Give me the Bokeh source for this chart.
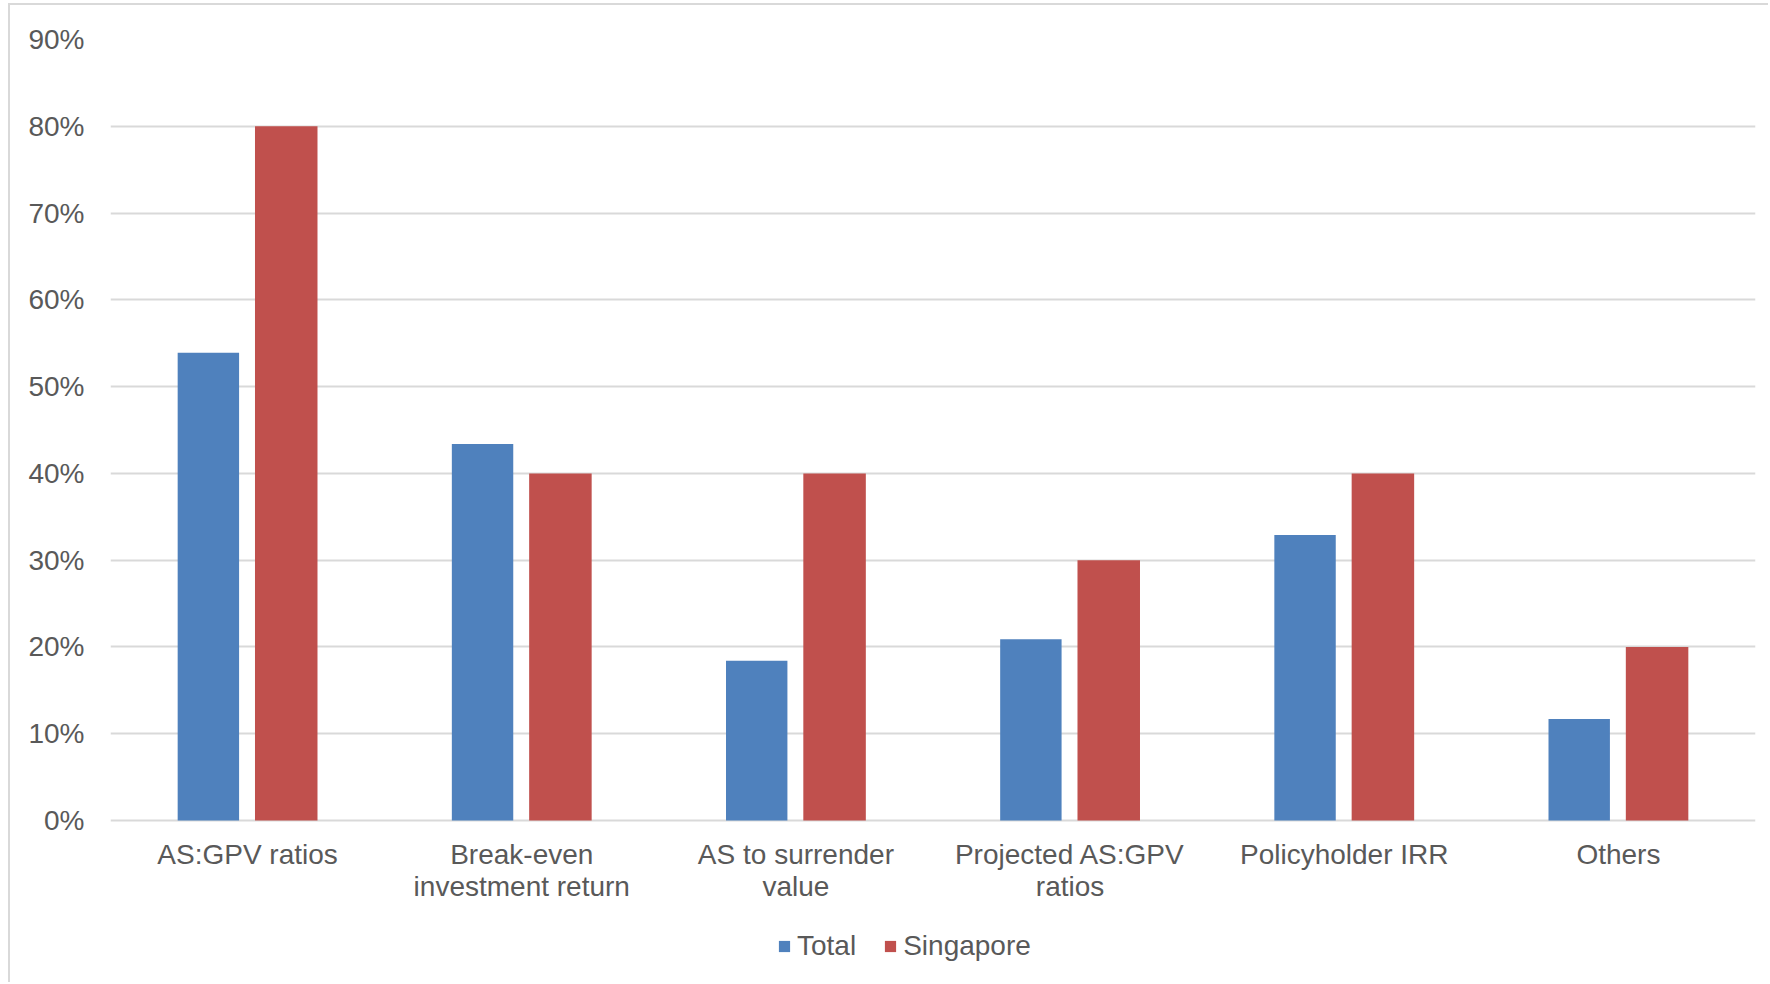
from bokeh.plotting import figure
from bokeh.models import ColumnDataSource, FactorRange, Range1d, NumeralTickFormatter, Legend, LegendItem, FixedTicker
from bokeh.core.properties import value
from bokeh.transform import dodge
from bokeh.embed import file_html
from bokeh.resources import INLINE

# Share of respondents using each measure
categories = ["AS:GPV ratios", "Break-even investment return", "AS to surrender value",
              "Projected AS:GPV ratios", "Policyholder IRR", "Others"]
label_line1 = ["AS:GPV ratios", "Break-even", "AS to surrender",
               "Projected AS:GPV", "Policyholder IRR", "Others"]
label_line2 = ["", "investment return", "value", "ratios", "", ""]
total = [0.539, 0.434, 0.184, 0.209, 0.329, 0.117]
singapore = [0.80, 0.40, 0.40, 0.30, 0.40, 0.20]
y_ticks = [0.0, 0.1, 0.2, 0.3, 0.4, 0.5, 0.6, 0.7, 0.8, 0.9]

FONT = "Liberation Sans"
TEXT = "#595959"
GRID = "#d9d9d9"
BLUE = "#4F81BD"
RED = "#C0504D"

# layout in pixels
W, H = 1760, 979
TOP, LEFT, RIGHT = 34, 100, 15
ZERO_Y = 815                       # canvas row of the 0% line
PX_PER_UNIT = (ZERO_Y - TOP) / 0.9
y_min = -(H - ZERO_Y) / PX_PER_UNIT  # plot area runs to the bottom edge; labels live below 0


def below_zero(px):
    return -px / PX_PER_UNIT


source = ColumnDataSource(data=dict(cat=categories, total=total, singapore=singapore))
labels = ColumnDataSource(data=dict(cat=categories, l1=label_line1, l2=label_line2))

p = figure(
    x_range=FactorRange(*categories, range_padding=0),
    y_range=Range1d(y_min, 0.9),
    width=W, height=H,
    min_border_left=LEFT, min_border_right=RIGHT,
    min_border_top=TOP, min_border_bottom=0,
    output_backend="svg", toolbar_location=None,
    background_fill_color="white", border_fill_color="white",
)
p.outline_line_color = None
p.styles = {"border-left": "2px solid #d9d9d9", "border-top": "2px solid #d9d9d9",
            "margin-left": "8px", "margin-top": "3px"}

r_total = p.vbar(x=dodge("cat", -0.143, range=p.x_range), top="total", width=0.224,
                 source=source, fill_color=BLUE, line_color=None)
r_sg = p.vbar(x=dodge("cat", 0.141, range=p.x_range), top="singapore", width=0.228,
              source=source, fill_color=RED, line_color=None)

# category names under the 0% line
for col, drop in (("l1", 34), ("l2", 66)):
    p.text(x="cat", y=below_zero(drop), text=col, source=labels,
           text_font=value(FONT), text_font_size="28px", text_color=TEXT,
           text_align="center", text_baseline="alphabetic")

# y axis: percentage labels, no line or ticks
p.yaxis.ticker = FixedTicker(ticks=y_ticks)
p.yaxis.formatter = NumeralTickFormatter(format="0%")
p.yaxis.axis_line_color = None
p.yaxis.major_tick_line_color = None
p.yaxis.minor_tick_line_color = None
p.yaxis.major_tick_out = 0
p.yaxis.major_label_standoff = 26
p.yaxis.major_label_text_font = FONT
p.yaxis.major_label_text_font_size = "28px"
p.yaxis.major_label_text_color = TEXT

p.xaxis.visible = False
p.xgrid.grid_line_color = None
p.ygrid.ticker = FixedTicker(ticks=y_ticks)
p.ygrid.grid_line_color = GRID
p.ygrid.grid_line_width = 2

legend = Legend(
    items=[LegendItem(label="Total", renderers=[r_total]),
           LegendItem(label="Singapore", renderers=[r_sg])],
    orientation="horizontal", location=(667, 22),
    glyph_width=14, glyph_height=14, label_standoff=6, spacing=27,
    padding=0, margin=0, border_line_color=None, background_fill_alpha=0,
    label_text_font=FONT, label_text_font_size="28px", label_text_color=TEXT,
)
p.add_layout(legend, "center")

open("out.html", "w").write(file_html(p, INLINE))
